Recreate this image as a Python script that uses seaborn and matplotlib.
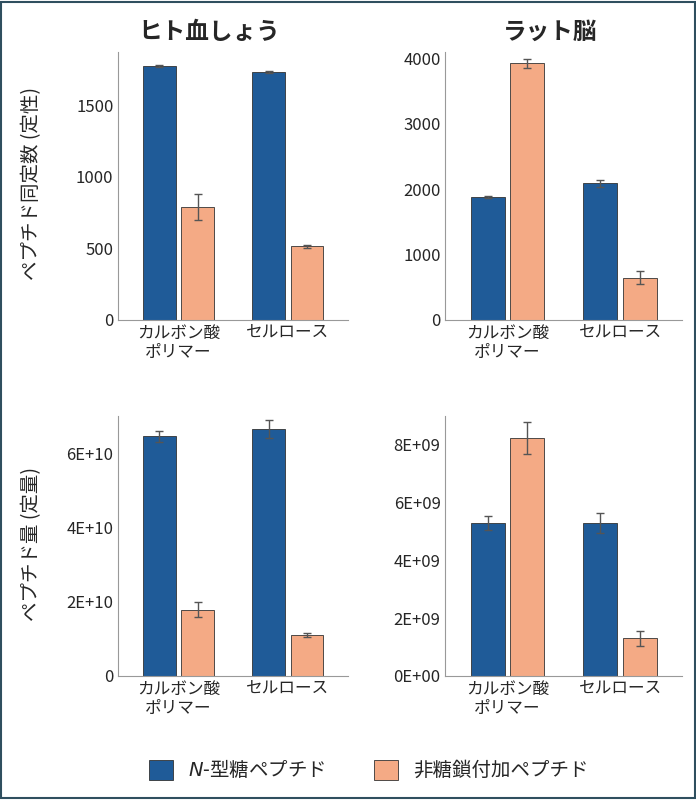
import pandas as pd
import numpy as np
import seaborn as sns
import matplotlib.pyplot as plt
from matplotlib.patches import Patch, Rectangle

sns.set_style("white")
plt.rcParams['font.family'] = ['Noto Sans CJK JP', 'DejaVu Sans']

categories = ["カルボン酸\nポリマー", "セルロース"]
series = ["N-型糖ペプチド", "非糖鎖付加ペプチド"]
colors = ["#1f5b98", "#f4aa85"]

# [panel] -> values per series per category
hp_count = [[1770, 1730], [790, 515]]
hp_count_err = [[8, 8], [90, 10]]
rb_count = [[1880, 2090], [3930, 650]]
rb_count_err = [[20, 50], [70, 100]]
hp_amount = [[6.45e10, 6.65e10], [1.78e10, 1.1e10]]
hp_amount_err = [[0.15e10, 0.25e10], [0.2e10, 0.05e10]]
rb_amount = [[5.3e9, 5.3e9], [8.25e9, 1.3e9]]
rb_amount_err = [[0.25e9, 0.35e9], [0.55e9, 0.25e9]]

fig = plt.figure(figsize=(6.96, 8), dpi=100)
fig.patches.append(Rectangle((0.002, 0.002), 0.996, 0.996, transform=fig.transFigure,
                             fill=False, edgecolor="#2f4f5f", linewidth=1.5))

boxes = [[0.17, 0.60, 0.33, 0.335], [0.64, 0.60, 0.34, 0.335],
         [0.17, 0.155, 0.33, 0.325], [0.64, 0.155, 0.34, 0.325]]
panels = [(hp_count, hp_count_err, (0, 1870), [0, 500, 1000, 1500], None),
          (rb_count, rb_count_err, (0, 4100), [0, 1000, 2000, 3000, 4000], None),
          (hp_amount, hp_amount_err, (0, 7e10), [0, 2e10, 4e10, 6e10],
           ["0", "2E+10", "4E+10", "6E+10"]),
          (rb_amount, rb_amount_err, (0, 9e9), [0, 2e9, 4e9, 6e9, 8e9],
           ["0E+00", "2E+09", "4E+09", "6E+09", "8E+09"])]

for box, (vals, errs, ylim, ticks, labels) in zip(boxes, panels):
    ax = fig.add_axes(box)
    df = pd.DataFrame({"cat": categories * 2,
                       "ser": [series[0]] * 2 + [series[1]] * 2,
                       "val": vals[0] + vals[1]})
    sns.barplot(data=df, x="cat", y="val", hue="ser", hue_order=series,
                palette=colors, saturation=1, errorbar=None, width=0.7, gap=0.14,
                edgecolor="#333333", linewidth=0.6, ax=ax, legend=False)
    for cont, err in zip(ax.containers, errs):
        for bar, e in zip(cont, err):
            ax.errorbar(bar.get_x() + bar.get_width() / 2, bar.get_height(), yerr=e,
                        fmt="none", ecolor="#555555", elinewidth=1, capsize=3)
    ax.set_xlim(-0.55, 1.55)
    ax.set_ylim(*ylim)
    ax.set_yticks(ticks)
    if labels:
        ax.set_yticklabels(labels)
    ax.set_xlabel("")
    ax.set_ylabel("")
    ax.tick_params(labelsize=12, length=0)
    for s in ["top", "right"]:
        ax.spines[s].set_visible(False)
    for s in ["left", "bottom"]:
        ax.spines[s].set_color("#999999")

fig.text(0.3, 0.96, "ヒト血しょう", fontsize=17, fontweight="bold", ha="center", va="center")
fig.text(0.79, 0.96, "ラット脳", fontsize=17, fontweight="bold", ha="center", va="center")
fig.text(0.045, 0.77, "ペプチド同定数 (定性)", fontsize=14, rotation=90, ha="center", va="center")
fig.text(0.045, 0.32, "ペプチド量 (定量)", fontsize=14, rotation=90, ha="center", va="center")

handles = [Patch(facecolor=c, edgecolor="#333333", linewidth=0.6) for c in colors]
fig.legend(handles, ["$\\it{N}$-型糖ペプチド", "非糖鎖付加ペプチド"], loc="center",
           bbox_to_anchor=(0.53, 0.038), ncol=2, frameon=False, fontsize=14,
           handlelength=1.2, handleheight=1.2, columnspacing=2.5)

plt.savefig("out.png", dpi=100)
